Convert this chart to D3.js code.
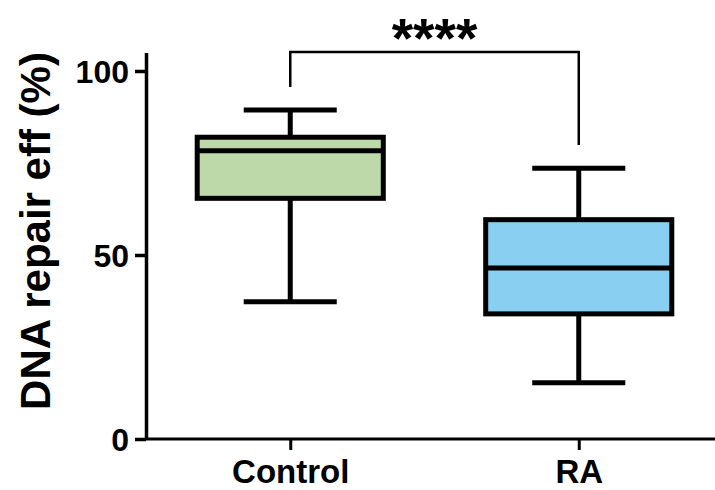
<!DOCTYPE html>
<html>
<head>
<meta charset="utf-8">
<script src="https://cdn.jsdelivr.net/npm/d3@7"></script>
<style>
  body { margin: 0; background: #fff; }
  svg { display: block; }
  text { font-family: "Liberation Sans", Arial, sans-serif; font-weight: bold; fill: #000; }
</style>
</head>
<body>
<script>
    // groups and box stats (min, q1, median, q3, max)
    const groups = ["Control", "RA"];
    const mins    = [37.3, 15.3];
    const q1s     = [65.4, 34.0];
    const medians = [78.3, 46.5];
    const q3s     = [82.0, 59.6];
    const maxs    = [89.4, 73.6];
    const fills   = ['#bdd9a9', '#89cff1'];
    const yTicks  = [0, 50, 100];
    const sigLabel = "****";

    const data = groups.map((g, i) => ({
        group: g, min: mins[i], q1: q1s[i], median: medians[i],
        q3: q3s[i], max: maxs[i], fill: fills[i]
    }));

    const W = 715, H = 490;
    const margin = {left: 146, top: 52.6, right: 0, bottom: 51};

    const svg = d3.select('body').append('svg')
        .attr('width', W)
        .attr('height', H);

    // scales
    const xScale = d3.scalePoint()
        .domain(groups)
        .range([margin.left, 723])
        .padding(0.5);

    const yScale = d3.scaleLinear()
        .domain([0, 105])
        .range([H - margin.bottom, margin.top]);

    const step = xScale.step();
    const boxW = step * 0.645;
    const capW = boxW * 0.5;

    // y axis
    const yAxis = d3.axisLeft(yScale)
        .tickValues(yTicks)
        .tickSize(11)
        .tickPadding(6)
        .tickSizeOuter(0);

    const yAxisGroup = svg.append('g')
        .attr('class', 'axis y-axis')
        .attr('transform', `translate(${margin.left}, 0)`)
        .call(yAxis);
    yAxisGroup.select('.domain').attr('stroke', '#000').attr('stroke-width', 3.5);
    yAxisGroup.selectAll('.tick line').attr('stroke', '#000').attr('stroke-width', 3.5);
    yAxisGroup.selectAll('.tick text')
        .attr('font-size', '32px')
        .attr('dy', '0.35em');

    // x axis
    const xAxis = d3.axisBottom(xScale)
        .tickSize(11)
        .tickPadding(10)
        .tickSizeOuter(0);

    const xAxisGroup = svg.append('g')
        .attr('class', 'axis x-axis')
        .attr('transform', `translate(0, ${yScale(0)})`)
        .call(xAxis);
    xAxisGroup.select('.domain')
        .attr('d', `M${margin.left},0H${W}`)
        .attr('stroke', '#000').attr('stroke-width', 3);
    xAxisGroup.selectAll('.tick line').attr('stroke', '#000').attr('stroke-width', 3);
    xAxisGroup.selectAll('.tick text').attr('font-size', '33px');

    // boxes
    const g = svg.selectAll('.box')
        .data(data)
        .enter()
        .append('g')
            .attr('class', 'box');

    // whiskers
    g.append('line')
        .attr('x1', d => xScale(d.group)).attr('x2', d => xScale(d.group))
        .attr('y1', d => yScale(d.max)).attr('y2', d => yScale(d.min))
        .attr('stroke', '#000').attr('stroke-width', 5);

    g.selectAll('.cap')
        .data(d => [d.min, d.max].map(v => ({x: xScale(d.group), v: v})))
        .enter()
        .append('line')
            .attr('class', 'cap')
            .attr('x1', d => d.x - capW / 2).attr('x2', d => d.x + capW / 2)
            .attr('y1', d => yScale(d.v)).attr('y2', d => yScale(d.v))
            .attr('stroke', '#000').attr('stroke-width', 5);

    g.append('rect')
        .attr('x', d => xScale(d.group) - boxW / 2)
        .attr('y', d => yScale(d.q3))
        .attr('width', boxW)
        .attr('height', d => yScale(d.q1) - yScale(d.q3))
        .attr('fill', d => d.fill)
        .attr('stroke', '#000')
        .attr('stroke-width', 5);

    g.append('line')
        .attr('x1', d => xScale(d.group) - boxW / 2).attr('x2', d => xScale(d.group) + boxW / 2)
        .attr('y1', d => yScale(d.median)).attr('y2', d => yScale(d.median))
        .attr('stroke', '#000').attr('stroke-width', 5);

    // significance bracket
    const x1 = xScale(groups[0]), x2 = xScale(groups[1]);
    const bracketY = 52;
    svg.append('path')
        .attr('d', `M${x1},${87}V${bracketY}H${x2}V${145}`)
        .attr('fill', 'none')
        .attr('stroke', '#000')
        .attr('stroke-width', 2.5);

    svg.append('text')
        .attr('x', (x1 + x2) / 2)
        .attr('y', 57)
        .attr('text-anchor', 'middle')
        .attr('font-size', '55px')
        .text(sigLabel);

    // y label
    svg.append("text")
        .attr("transform", `translate(50, ${(47 + 415) / 2}) rotate(-90)`)
        .attr("text-anchor", "middle")
        .attr("font-size", "42px")
        .text("DNA repair eff (%)");
</script>
</body>
</html>
